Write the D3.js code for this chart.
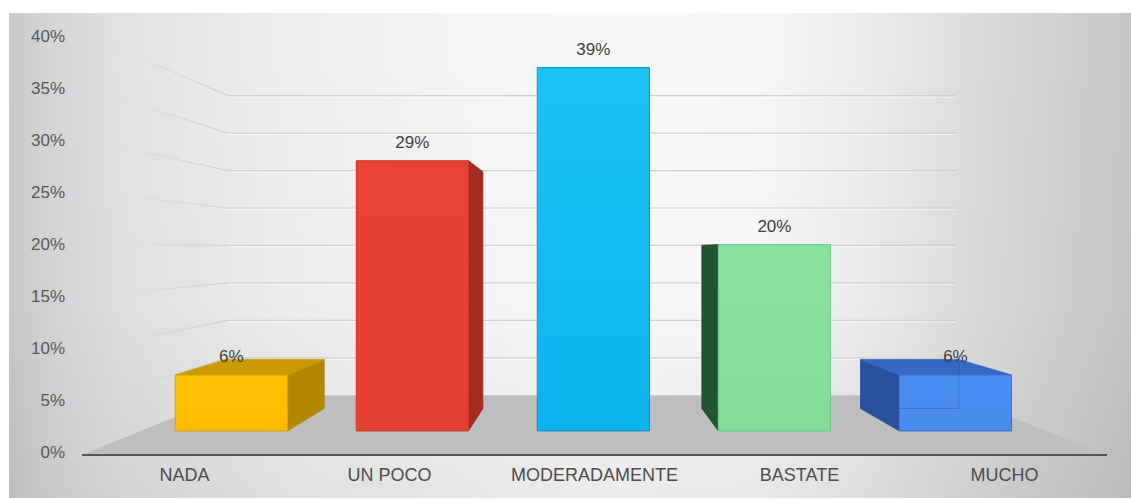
<!DOCTYPE html>
<html>
<head>
<meta charset="utf-8">
<script src="https://cdn.jsdelivr.net/npm/d3@7"></script>
<style>
  html, body { margin: 0; padding: 0; background: #ffffff; }
  svg { display: block; font-family: "Liberation Sans", Arial, sans-serif; }
</style>
</head>
<body>
<svg id="chart" width="1131" height="500"></svg>
<script>
// ---- data ----
const categories = ["NADA", "UN POCO", "MODERADAMENTE", "BASTATE", "MUCHO"];
const values = [6, 29, 39, 20, 6];
const valueLabels = ["6%", "29%", "39%", "20%", "6%"];
const tickValues = [0, 5, 10, 15, 20, 25, 30, 35, 40];
const tickLabels = ["0%", "5%", "10%", "15%", "20%", "25%", "30%", "35%", "40%"];

// ---- styles ----
const frontColors = ["#FFC000", "#EA4335", "#1CC2F8", "#86E29E", "#4A8DF2"];
const frontColorsLow = ["#FDBA00", "#E63F31", "#0CB2EE", "#80DC98", "#4A8BF0"];
const sideColors  = ["#B38700", "#A32A1F", "#0E8AB6", "#26532F", "#2A4F9D"];
const topColors   = ["#C99B00", "#C0362A", "#14A6D8", "#5FB577", "#3567C6"];
const edgeColors  = ["#D9A300", "#C53A2D", "#1590C8", "#6CC985", "#3A72D0"];
const hiddenEdgeOpacity = [0, 0, 0, 0, 0.4];

const svg = d3.select("#chart");
const defs = svg.append("defs");

// perspective: every plane is scaled toward the vanishing point by its depth factor
const vp = { x: 585, y: 249 };
const depth = { floorFront: 1, barFront: 0.883, barBack: 0.774, floorBack: 0.71, tickText: 0.984 };
const proj = (px, py, s) => [vp.x + s * (px - vp.x), vp.y + s * (py - vp.y)];

const x = d3.scaleBand().domain(categories).range([82, 1107]).padding(0);
const y = d3.scaleLinear().domain([0, 40]).range([455, 33]);
const barFrac = 0.62;

// ---- chart background ----
const bg = defs.append("linearGradient").attr("id", "bgGrad")
  .attr("x1", "0%").attr("x2", "100%").attr("y1", "0%").attr("y2", "0%");
[[0, "#c9c9c9"], [0.04, "#d6d6d6"], [0.1, "#e1e1e1"], [0.25, "#eeeeee"], [0.5, "#f9f9f9"],
 [0.66, "#f8f8f8"], [0.76, "#ececec"], [0.88, "#d9d9d9"], [1, "#c6c6c6"]]
  .forEach(([o, c]) => bg.append("stop").attr("offset", o).attr("stop-color", c));
const shade = defs.append("linearGradient").attr("id", "bgShade")
  .attr("x1", "0%").attr("x2", "0%").attr("y1", "0%").attr("y2", "100%");
shade.append("stop").attr("offset", 0).attr("stop-color", "#000").attr("stop-opacity", 0);
shade.append("stop").attr("offset", 0.6).attr("stop-color", "#000").attr("stop-opacity", 0.01);
shade.append("stop").attr("offset", 1).attr("stop-color", "#000").attr("stop-opacity", 0.06);
svg.append("rect").attr("x", 9).attr("y", 13).attr("width", 1122).attr("height", 485)
  .attr("fill", "url(#bgGrad)");
svg.append("rect").attr("x", 9).attr("y", 13).attr("width", 1122).attr("height", 485)
  .attr("fill", "url(#bgShade)");

// ---- back wall gridlines ----
const gridTicks = tickValues.filter(t => t > 0);
const wallL = 82, wallR = 1107;
const backG = svg.append("g");
backG.selectAll("line.hl").data(gridTicks).join("line").attr("class", "hl")
  .attr("x1", t => proj(wallL, y(t), depth.floorBack)[0])
  .attr("x2", t => proj(wallR, y(t), depth.floorBack)[0])
  .attr("y1", t => proj(wallL, y(t), depth.floorBack)[1] + 1.5)
  .attr("y2", t => proj(wallR, y(t), depth.floorBack)[1] + 1.5)
  .attr("stroke", "#ffffff").attr("stroke-opacity", 0.6).attr("stroke-width", 1);
backG.selectAll("line.gl").data(gridTicks).join("line").attr("class", "gl")
  .attr("x1", t => proj(wallL, y(t), depth.floorBack)[0])
  .attr("x2", t => proj(wallR, y(t), depth.floorBack)[0])
  .attr("y1", t => proj(wallL, y(t), depth.floorBack)[1])
  .attr("y2", t => proj(wallR, y(t), depth.floorBack)[1])
  .attr("stroke", "#d0d0d0").attr("stroke-width", 1.2);

// ---- side wall gridlines (fading toward the front) ----
const sideGrad = defs.append("linearGradient").attr("id", "sideGrad")
  .attr("gradientUnits", "userSpaceOnUse")
  .attr("x1", 100).attr("x2", proj(wallL, 0, depth.floorBack)[0]).attr("y1", 0).attr("y2", 0);
sideGrad.append("stop").attr("offset", 0).attr("stop-color", "#d0d0d0").attr("stop-opacity", 0);
sideGrad.append("stop").attr("offset", 1).attr("stop-color", "#d0d0d0").attr("stop-opacity", 1);
svg.append("g").selectAll("line").data(gridTicks).join("line")
  .attr("x1", t => proj(wallL, y(t), depth.floorFront)[0])
  .attr("y1", t => proj(wallL, y(t), depth.floorFront)[1])
  .attr("x2", t => proj(wallL, y(t), depth.floorBack)[0])
  .attr("y2", t => proj(wallL, y(t), depth.floorBack)[1])
  .attr("stroke", "url(#sideGrad)").attr("stroke-width", 1.2);

// ---- floor ----
const floorPts = [
  proj(wallL, y(0), depth.floorFront), proj(wallR, y(0), depth.floorFront),
  proj(wallR, y(0), depth.floorBack), proj(wallL, y(0), depth.floorBack)
];
svg.append("polygon").attr("points", floorPts.map(p => p.join(",")).join(" "))
  .attr("fill", "#bebebe");

// ---- 3D bars ----
const poly = pts => pts.map(p => p.join(",")).join(" ");
const barsG = svg.append("g");
categories.forEach((c, i) => {
  const cx = x(c) + x.bandwidth() / 2;
  const hw = x.bandwidth() * barFrac / 2;
  const x0 = cx - hw, x1 = cx + hw, yb = y(0), yt = y(values[i]);
  const f = s => ({
    tl: proj(x0, yt, s), tr: proj(x1, yt, s), br: proj(x1, yb, s), bl: proj(x0, yb, s)
  });
  const F = f(depth.barFront), B = f(depth.barBack);
  const g = barsG.append("g");

  const fg = defs.append("linearGradient").attr("id", "front" + i)
    .attr("x1", "0%").attr("x2", "0%").attr("y1", "0%").attr("y2", "100%");
  fg.append("stop").attr("offset", 0).attr("stop-color", frontColors[i]);
  fg.append("stop").attr("offset", 1).attr("stop-color", frontColorsLow[i]);

  if (F.tr[0] < vp.x) {
    g.append("polygon").attr("points", poly([F.tr, B.tr, B.br, F.br]))
      .attr("fill", sideColors[i]).attr("stroke", sideColors[i]).attr("stroke-width", 0.8);
  }
  if (F.tl[0] > vp.x) {
    g.append("polygon").attr("points", poly([F.tl, B.tl, B.bl, F.bl]))
      .attr("fill", sideColors[i]).attr("stroke", sideColors[i]).attr("stroke-width", 0.8);
  }
  if (F.tl[1] > vp.y) {
    g.append("polygon").attr("points", poly([F.tl, F.tr, B.tr, B.tl]))
      .attr("fill", topColors[i]).attr("stroke", topColors[i]).attr("stroke-width", 0.8);
  }
  g.append("polygon").attr("points", poly([F.tl, F.tr, F.br, F.bl]))
    .attr("fill", `url(#front${i})`)
    .attr("stroke", edgeColors[i]).attr("stroke-width", 1);
  // back edges seen through a translucent box
  if (hiddenEdgeOpacity[i] > 0) {
    g.append("polyline").attr("points", poly([B.tr, B.br, B.bl]))
      .attr("fill", "none").attr("stroke", sideColors[i]).attr("stroke-width", 1)
      .attr("opacity", hiddenEdgeOpacity[i]);
  }

  // value label above the bar
  g.append("text")
    .attr("x", (F.tl[0] + F.tr[0]) / 2)
    .attr("y", F.tl[1] - 13)
    .attr("text-anchor", "middle")
    .attr("font-size", 17)
    .attr("fill", "#404040")
    .text(valueLabels[i]);
});

// ---- category axis line ----
svg.append("line")
  .attr("x1", wallL).attr("x2", wallR).attr("y1", y(0)).attr("y2", y(0))
  .attr("stroke", "#555555").attr("stroke-width", 2);

// ---- value axis labels ----
svg.append("g").selectAll("text").data(tickValues).join("text")
  .attr("x", 65)
  .attr("y", t => proj(wallL, y(t), depth.tickText)[1] + 6)
  .attr("text-anchor", "end")
  .attr("font-size", 17)
  .attr("fill", "#595959")
  .text((t, i) => tickLabels[i]);

// ---- category labels ----
svg.append("g").selectAll("text").data(categories).join("text")
  .attr("x", c => x(c) + x.bandwidth() / 2)
  .attr("y", 481)
  .attr("text-anchor", "middle")
  .attr("font-size", 18)
  .attr("fill", "#4d4d4d")
  .text(c => c);
</script>
</body>
</html>
